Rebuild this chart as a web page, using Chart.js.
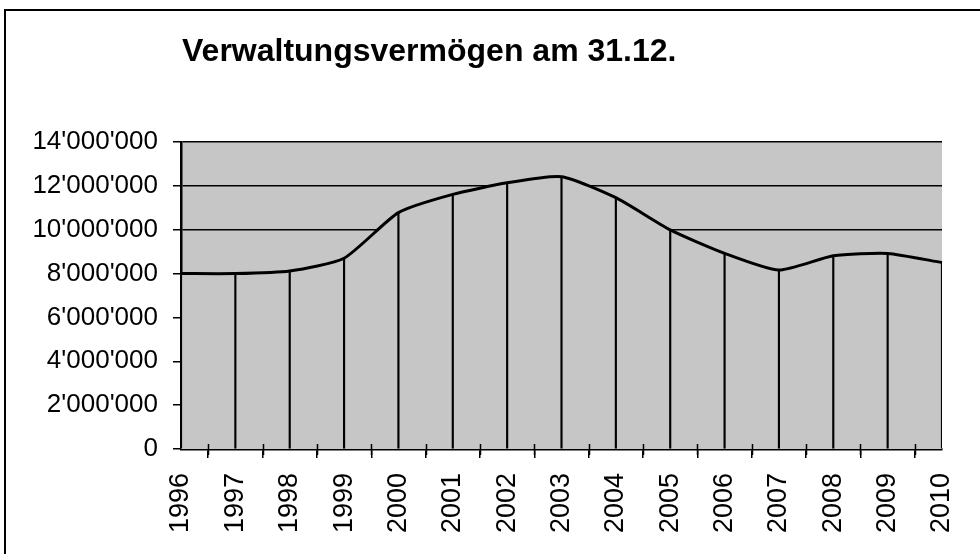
<!DOCTYPE html>
<html>
<head>
<meta charset="utf-8">
<script src="https://cdn.jsdelivr.net/npm/chart.js@4"></script>
<style>
  html, body { margin: 0; padding: 0; background: #fff; }
  #wrap { position: relative; width: 980px; height: 554px; }
</style>
</head>
<body>
<div id="wrap"><canvas id="chart1" width="980" height="554"></canvas></div>
<script>
var years = ['1996', '1997', '1998', '1999', '2000', '2001', '2002', '2003', '2004', '2005', '2006', '2007', '2008', '2009', '2010'];
var vermoegen = [8000000, 8000000, 8120000, 8700000, 10780000, 11610000, 12140000, 12420000, 11460000, 9990000, 8920000, 8160000, 8810000, 8920000, 8500000];
var yTicks = [0, 2000000, 4000000, 6000000, 8000000, 10000000, 12000000, 14000000];
var titleText = 'Verwaltungsvermögen am 31.12.';

var plotGrey = '#c6c6c6';

function fmt(v) {
    return String(v).replace(/\B(?=(\d{3})+(?!\d))/g, "'");
}

// frame, grey plot background and title
var decor = {
    id: 'decor',
    beforeDraw: function (chart) {
        var ctx = chart.ctx, a = chart.chartArea;
        ctx.save();
        ctx.fillStyle = plotGrey;
        ctx.fillRect(a.left, a.top, a.right - a.left, a.bottom - a.top);
        ctx.strokeStyle = '#000';
        ctx.lineWidth = 2;
        ctx.beginPath();
        ctx.moveTo(5, 560);
        ctx.lineTo(5, 10);
        ctx.lineTo(985, 10);
        ctx.stroke();
        ctx.fillStyle = '#000';
        ctx.font = 'bold 32px "Liberation Sans", Arial, sans-serif';
        ctx.textBaseline = 'alphabetic';
        ctx.textAlign = 'left';
        ctx.fillText(titleText, 182, 61);
        ctx.restore();
    },
    afterDraw: function (chart) {
        // minor ticks between the years
        var ctx = chart.ctx, x = chart.scales.x, a = chart.chartArea;
        ctx.save();
        ctx.strokeStyle = '#000';
        ctx.lineWidth = 1.5;
        ctx.beginPath();
        for (var i = 0; i < years.length - 1; i++) {
            var px = Math.round(x.getPixelForValue(i + 0.5)) + 0.5;
            ctx.moveTo(px, a.bottom - 5);
            ctx.lineTo(px, a.bottom + 6);
        }
        ctx.stroke();
        ctx.restore();
    }
};

var chart1 = new Chart(document.getElementById('chart1'), {
    data: {
        labels: years,
        datasets: [
            {
                type: 'line',
                data: vermoegen,
                borderColor: '#000',
                borderWidth: 3,
                backgroundColor: plotGrey,
                fill: 'origin',
                tension: 0.2,
                pointRadius: 0,
                order: 0
            },
            {
                type: 'bar',
                data: vermoegen,
                backgroundColor: '#000',
                barThickness: 1.5,
                order: 1
            }
        ]
    },
    options: {
        responsive: false,
        animation: false,
        devicePixelRatio: 1,
        layout: { padding: { left: 0, top: 142, right: 38, bottom: 0 } },
        plugins: {
            legend: { display: false },
            tooltip: { enabled: false },
            filler: { drawTime: 'beforeDatasetsDraw' }
        },
        scales: {
            x: {
                offset: false,
                afterFit: function (s) { s.height = 105; s.paddingLeft = 0; s.paddingRight = 0; },
                grid: { drawOnChartArea: false, color: '#000', lineWidth: 1.5, tickLength: 9 },
                border: { color: '#000', width: 2.5 },
                ticks: {
                    color: '#000',
                    minRotation: 90,
                    maxRotation: 90,
                    padding: 15,
                    font: { family: '"Liberation Sans", Arial, sans-serif', size: 27 }
                }
            },
            y: {
                min: 0,
                max: 14000000,
                afterFit: function (s) { s.width = 181; },
                afterBuildTicks: function (s) { s.ticks = yTicks.map(function (v) { return { value: v }; }); },
                grid: { color: '#000', lineWidth: 1.5, tickLength: 8 },
                border: { color: '#000', width: 2.5 },
                ticks: {
                    color: '#000',
                    padding: 15,
                    callback: function (v) { return fmt(v); },
                    font: { family: '"Liberation Sans", Arial, sans-serif', size: 26 }
                }
            }
        }
    },
    plugins: [decor]
});
</script>
</body>
</html>
